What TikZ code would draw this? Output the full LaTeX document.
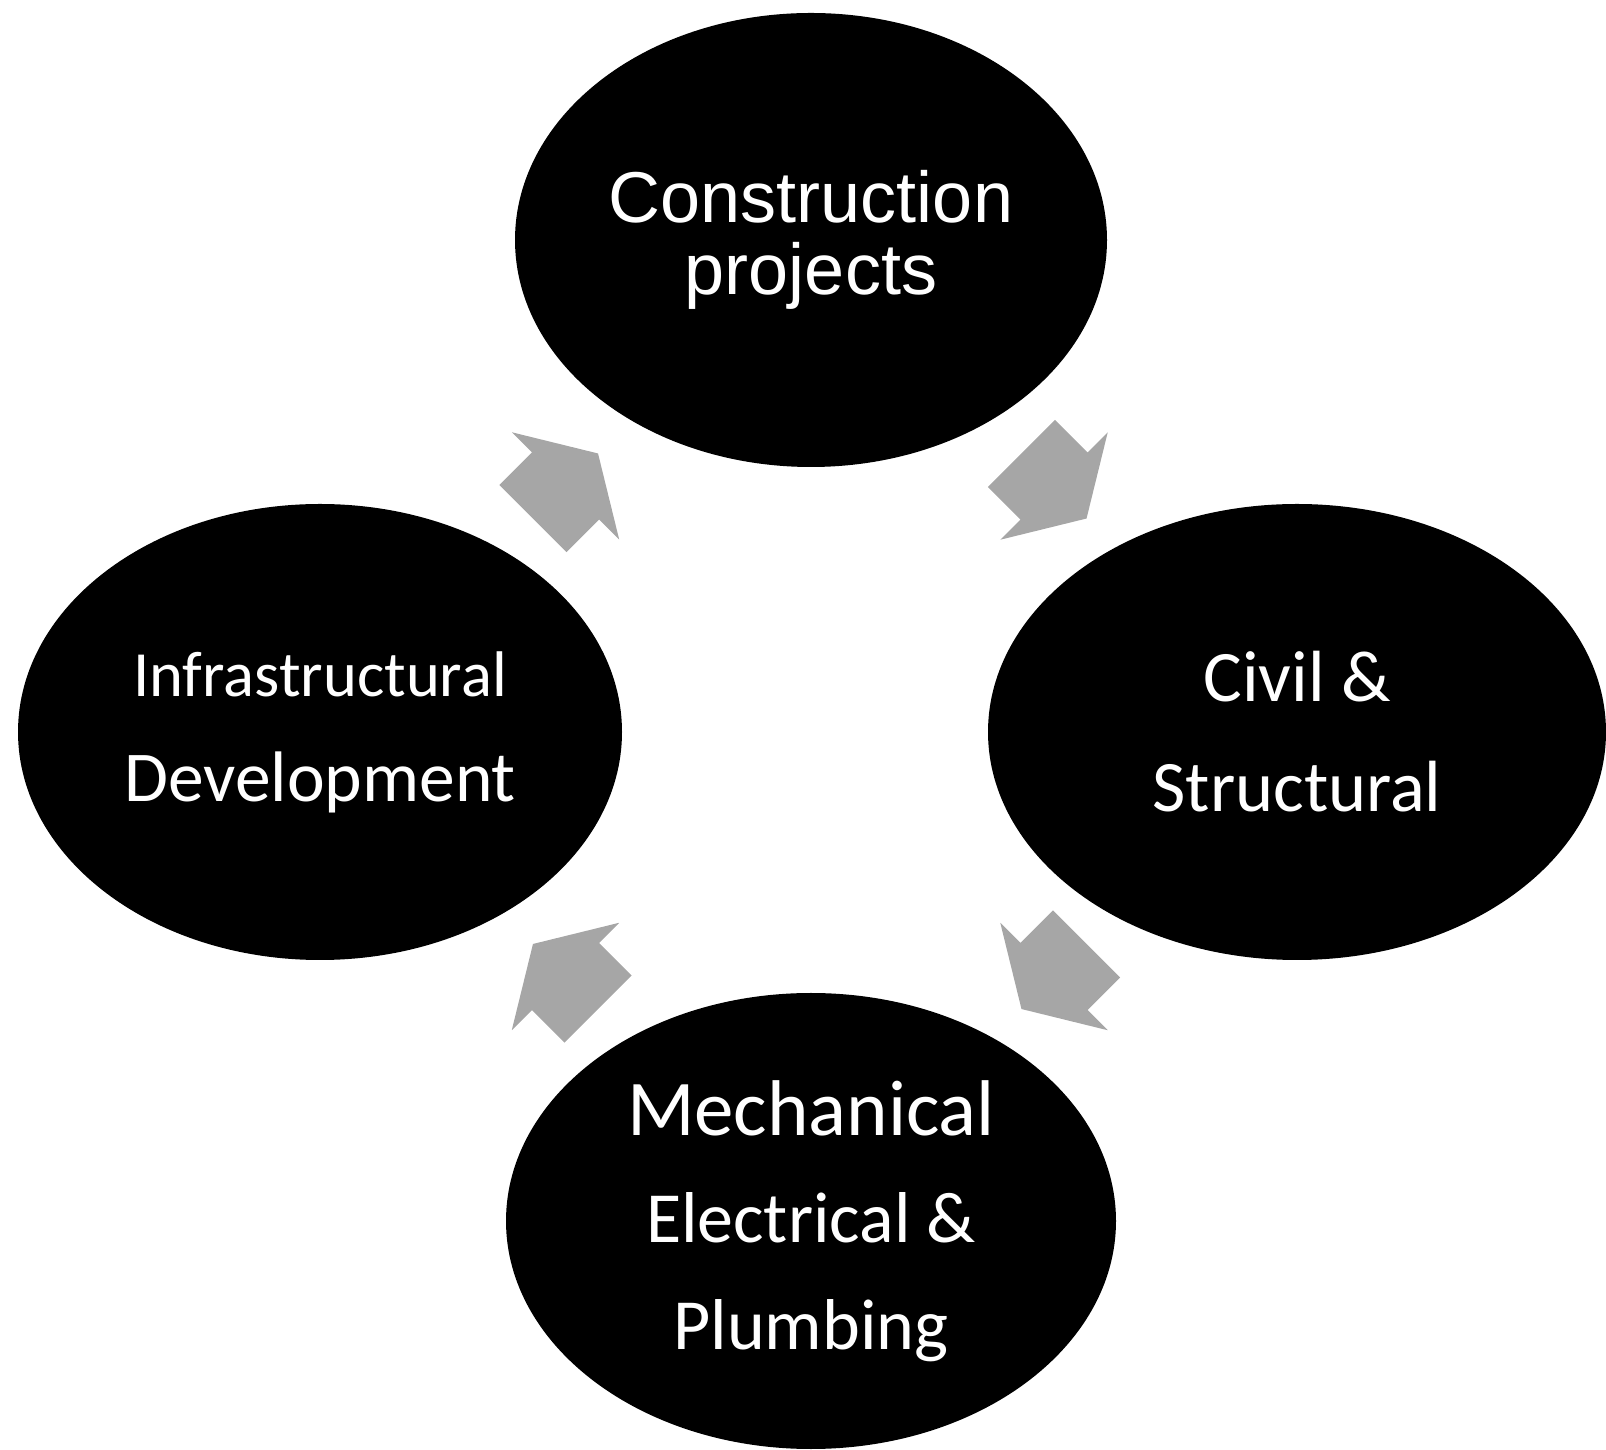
\documentclass[tikz,border=0pt]{standalone}
\usepackage{fontspec}
\newfontfamily\arialfont{Liberation Sans}
\newfontfamily\calibrifont{Carlito}
\usetikzlibrary{shapes.geometric,calc}
\definecolor{arrowgray}{RGB}{166,166,166}
\tikzset{
	blob/.style={ellipse, fill=black, text=white, inner sep=0pt, align=center},
	blockarrow/.pic={
		\fill[arrowgray] (-46,-47.5) -- (0,-47.5) -- (0,-76) -- (46,0) -- (0,76) -- (0,47.5) -- (-46,47.5) -- cycle;
	}
}

\begin{document}
\begin{tikzpicture}[x=1pt,y=1pt]
	\clip (0,0) rectangle (1606,1449);

	\node[blob, minimum width=592pt, minimum height=454pt, font=\arialfont\fontsize{72}{72}\selectfont] (construction) at (811,1209) {Construction\\projects};
	\node[blob, minimum width=618pt, minimum height=456pt, font=\calibrifont\fontsize{72.5}{110}\selectfont] (civil) at (1297,717) {Civil \&\\Structural};
	\node[blob, minimum width=610pt, minimum height=456pt, font=\calibrifont\fontsize{72}{107}\selectfont] (mep) at (811,228) {{\fontsize{79}{107}\selectfont Mechanical}\\Electrical \&\\Plumbing};
	\node[blob, minimum width=604pt, minimum height=456pt, font=\calibrifont\fontsize{71.5}{105}\selectfont] (infra) at (320,717) {{\fontsize{64.5}{105}\selectfont Infrastructural}\\Development};

	% block arrows between the ellipses
	\pic[rotate=-45] at ($(construction)!0.5!(civil)$) {blockarrow};
	\pic[rotate=-135] at ($(civil)!0.5!(mep)$) {blockarrow};
	\pic[rotate=135] at ($(mep)!0.5!(infra)$) {blockarrow};
	\pic[rotate=45] at ($(infra)!0.5!(construction)$) {blockarrow};
\end{tikzpicture}
\end{document}
